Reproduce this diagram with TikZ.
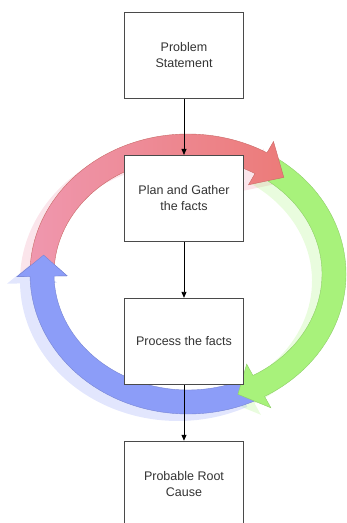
\documentclass[tikz,border=0pt]{standalone}
\usepackage{fontspec}
\setmainfont{Liberation Sans}
\usepackage{tikz}
\usetikzlibrary{positioning,arrows.meta}
\definecolor{ringred}{HTML}{EC7B79}
\definecolor{ringpink}{HTML}{EF97AE}
\definecolor{ringgreen}{HTML}{A8F27B}
\definecolor{ringblue}{HTML}{8C9DF8}
\definecolor{boxline}{HTML}{4A4A4A}
\definecolor{boxtext}{HTML}{333333}

% ring arrow: start angle, head base angle, tip angle
\newcommand{\ringpath}[3]{(#1:158pt and 140pt) arc[start angle=#1, end angle=#2, x radius=158pt, y radius=140pt]
  -- (#2:171pt and 153pt) -- (#3:146pt and 128pt) -- (#2:121pt and 103pt) -- (#2:134pt and 116pt)
  arc[start angle=#2, end angle=#1, x radius=134pt, y radius=116pt] -- cycle}

\begin{document}
\begin{tikzpicture}[x=1pt, y=1pt,
    box/.style={draw=boxline, line width=0.9pt, fill=white, minimum width=119pt, minimum height=86pt, align=center, font=\fontsize{12.5}{16}\selectfont, text=boxtext},
    arrow/.style={-{Triangle[length=6pt,width=5pt]}, line width=0.8pt},
    ringshadow/.style={opacity=0.25, shift={(-10pt,-7pt)}},
    ringedge/.style={line width=0.4pt},
    node distance=56pt
]
\useasboundingbox (-188,-249) rectangle (159,274);

% Shadows
\fill[ringshadow, ringpink] \ringpath{178}{60}{49};
\fill[ringshadow, ringgreen] \ringpath{57}{-61}{-70};
\fill[ringshadow, ringblue] \ringpath{-64}{-179}{-188.5};

% Ring arrows
\path[ringedge, draw=ringblue!85!black, fill=ringblue] \ringpath{-64}{-179}{-188.5};
\path[ringedge, draw=ringgreen!85!black, fill=ringgreen] \ringpath{57}{-61}{-70};
\path[ringedge, draw=ringred!85!black, left color=ringpink, right color=ringred] \ringpath{178}{60}{49};
\fill[ringblue] (-179:134pt and 116pt) -- (-179:121pt and 103pt) -- (-188.5:146pt and 128pt) -- (-179:171pt and 153pt) -- (-179:158pt and 140pt) -- cycle;
\draw[ringedge, ringblue!85!black] (-179:134pt and 116pt) -- (-179:121pt and 103pt) -- (-188.5:146pt and 128pt) -- (-179:171pt and 153pt) -- (-179:158pt and 140pt);

% Boxes
\node[box] (problem) at (-4,218.5) {Problem\\Statement};
\node[box, below=of problem] (plan) {Plan and Gather\\the facts};
\node[box, below=of plan] (process) {Process the facts};
\node[box, below=of process] (cause) {Probable Root\\Cause};

% Arrows
\draw[arrow] (problem) -- (plan);
\draw[arrow] (plan) -- (process);
\draw[arrow] (process) -- (cause);
\end{tikzpicture}
\end{document}
